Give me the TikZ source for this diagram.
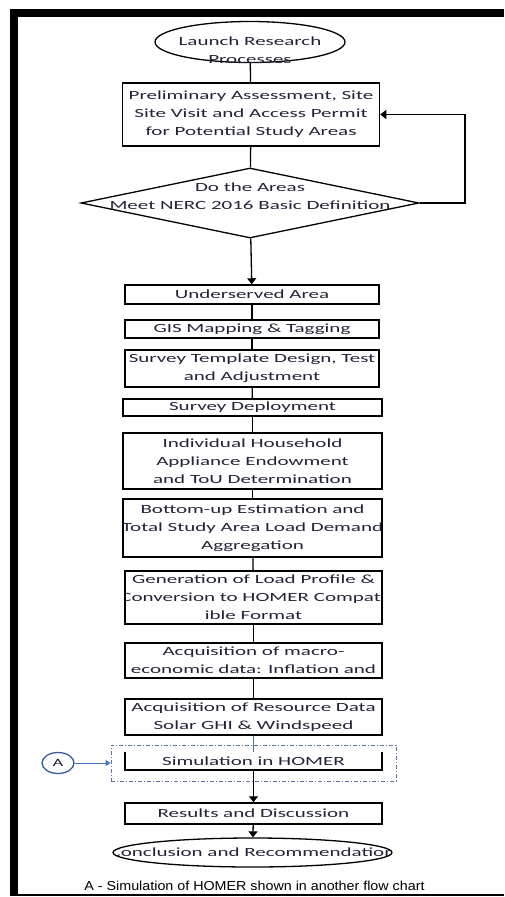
\documentclass[tikz,border=0pt]{standalone}
\usepackage{fontspec}
\setmainfont{Carlito}[FakeStretch=1.68]
\newfontfamily\notefont{Liberation Sans}[FakeStretch=1.1]
\usetikzlibrary{arrows.meta,shapes.geometric}
\definecolor{ink}{RGB}{35,35,55}
\definecolor{linkblue}{RGB}{68,114,196}
\definecolor{framegray}{RGB}{95,115,160}

\begin{document}
\begin{tikzpicture}[x=1pt,y=-1pt,font=\fontsize{12.5}{18}\selectfont,
  box/.style={draw,line width=1.5pt,inner sep=0pt,minimum width=257pt},
  boxtext/.style={path picture={\node[draw=none,text=ink,align=center] at (path picture bounding box.center) {#1};}},
  flow/.style={line width=1.3pt},
  arr/.style={flow,-{Triangle[length=6pt,width=9pt]}}]

\useasboundingbox (0,0) rectangle (504,897);

\fill (10,9) rectangle (504,17);
\fill (10,9) rectangle (18,896);
\draw[line width=2pt] (10,895) -- (504,895);

\node[draw,ellipse,line width=1.3pt,minimum width=190pt,minimum height=41pt,inner sep=0pt,label={[text=ink,align=center,yshift=-8pt]center:Launch Research\\Processes}] (launch) at (250,42) {};

\node[box,minimum height=63pt,boxtext={Preliminary Assessment, Site\\Site Visit and Access Permit\\for Potential Study Areas}] (prelim) at (251,114.5) {};

\node[draw,diamond,line width=1.3pt,minimum width=338pt,minimum height=70pt,inner sep=0pt,label={[text=ink,align=center,yshift=6.5pt]center:Do the Areas\\Meet NERC 2016 Basic Definition}] (decide) at (250,203) {};
\coordinate (loop) at (465,203);

\node[box,minimum width=254pt,minimum height=19pt,boxtext={Underserved Area}] (under) at (252,294.5) {};
\node[box,minimum width=254pt,minimum height=18pt,boxtext={GIS Mapping \& Tagging}] (gis) at (252,329) {};
\node[box,minimum width=254pt,minimum height=37pt,boxtext={Survey Template Design, Test\\and Adjustment}] (template) at (252,368.5) {};
\node[box,minimum width=259pt,minimum height=17pt,boxtext={Survey Deployment}] (deploy) at (252.5,407.5) {};
\node[box,minimum width=259pt,minimum height=56pt,boxtext={Individual Household\\Appliance Endowment\\and ToU Determination}] (household) at (252.5,461) {};
\node[box,minimum width=259pt,minimum height=58pt,boxtext={Bottom-up Estimation and\\Total Study Area Load Demand\\Aggregation}] (aggregate) at (252.5,528) {};
\node[box,minimum height=53pt,boxtext={Generation of Load Profile \&\\Conversion to HOMER Compat-\\ible Format}] (profile) at (253.5,597.5) {};
\node[box,minimum height=35pt,boxtext={Acquisition of macro-\\economic data: Inflation and}] (macro) at (253.5,660.5) {};
\node[box,minimum height=36pt,boxtext={Acquisition of Resource Data\\Solar GHI \& Windspeed}] (resource) at (253.5,717) {};

\node[draw=framegray,line width=0.9pt,dash pattern=on 4pt off 2pt on 1pt off 2pt,minimum width=285pt,minimum height=36pt] (homer) at (253.5,763) {};
\node[inner sep=0pt,minimum width=257pt,minimum height=18pt,text=ink] (sim) at (253.5,761) {Simulation in HOMER};
\draw[line width=1.5pt] (sim.north west) -- (sim.south west) -- (sim.south east) -- (sim.north east);
\node[draw=linkblue!80!black,ellipse,line width=1.3pt,minimum width=32pt,minimum height=21pt,inner sep=0pt,text=ink,font=\fontsize{11}{13}\selectfont] (refA) at (58,763) {A};

\node[box,minimum height=21pt,boxtext={Results and Discussion}] (results) at (253.5,813.5) {};
\node[draw,ellipse,line width=1.3pt,minimum width=279pt,minimum height=29pt,inner sep=0pt,boxtext={Conclusion and Recommendation}] (conclude) at (252.5,852.5) {};

\node[font=\notefont\fontsize{13}{15}\selectfont] (note) at (254.5,885.5) {A - Simulation of HOMER shown in another flow chart};

\path[flow] (launch) edge (prelim) (prelim) edge (decide) (under) edge (gis) (gis) edge (template) (template) edge (deploy) (deploy) edge (household) (household) edge (aggregate) (aggregate) edge (profile) (profile) edge (macro) (macro) edge (resource);
\path[arr] (decide) edge (under) (sim) edge (results) (results) edge (conclude);
\draw[arr] (decide.east) -- (loop) |- (prelim.east);
\path[draw=linkblue,line width=1pt] (resource) edge (sim);
\draw[draw=linkblue,line width=1pt,-{Triangle[length=5pt,width=6pt]}] (refA) -- (homer);

\end{tikzpicture}
\end{document}
